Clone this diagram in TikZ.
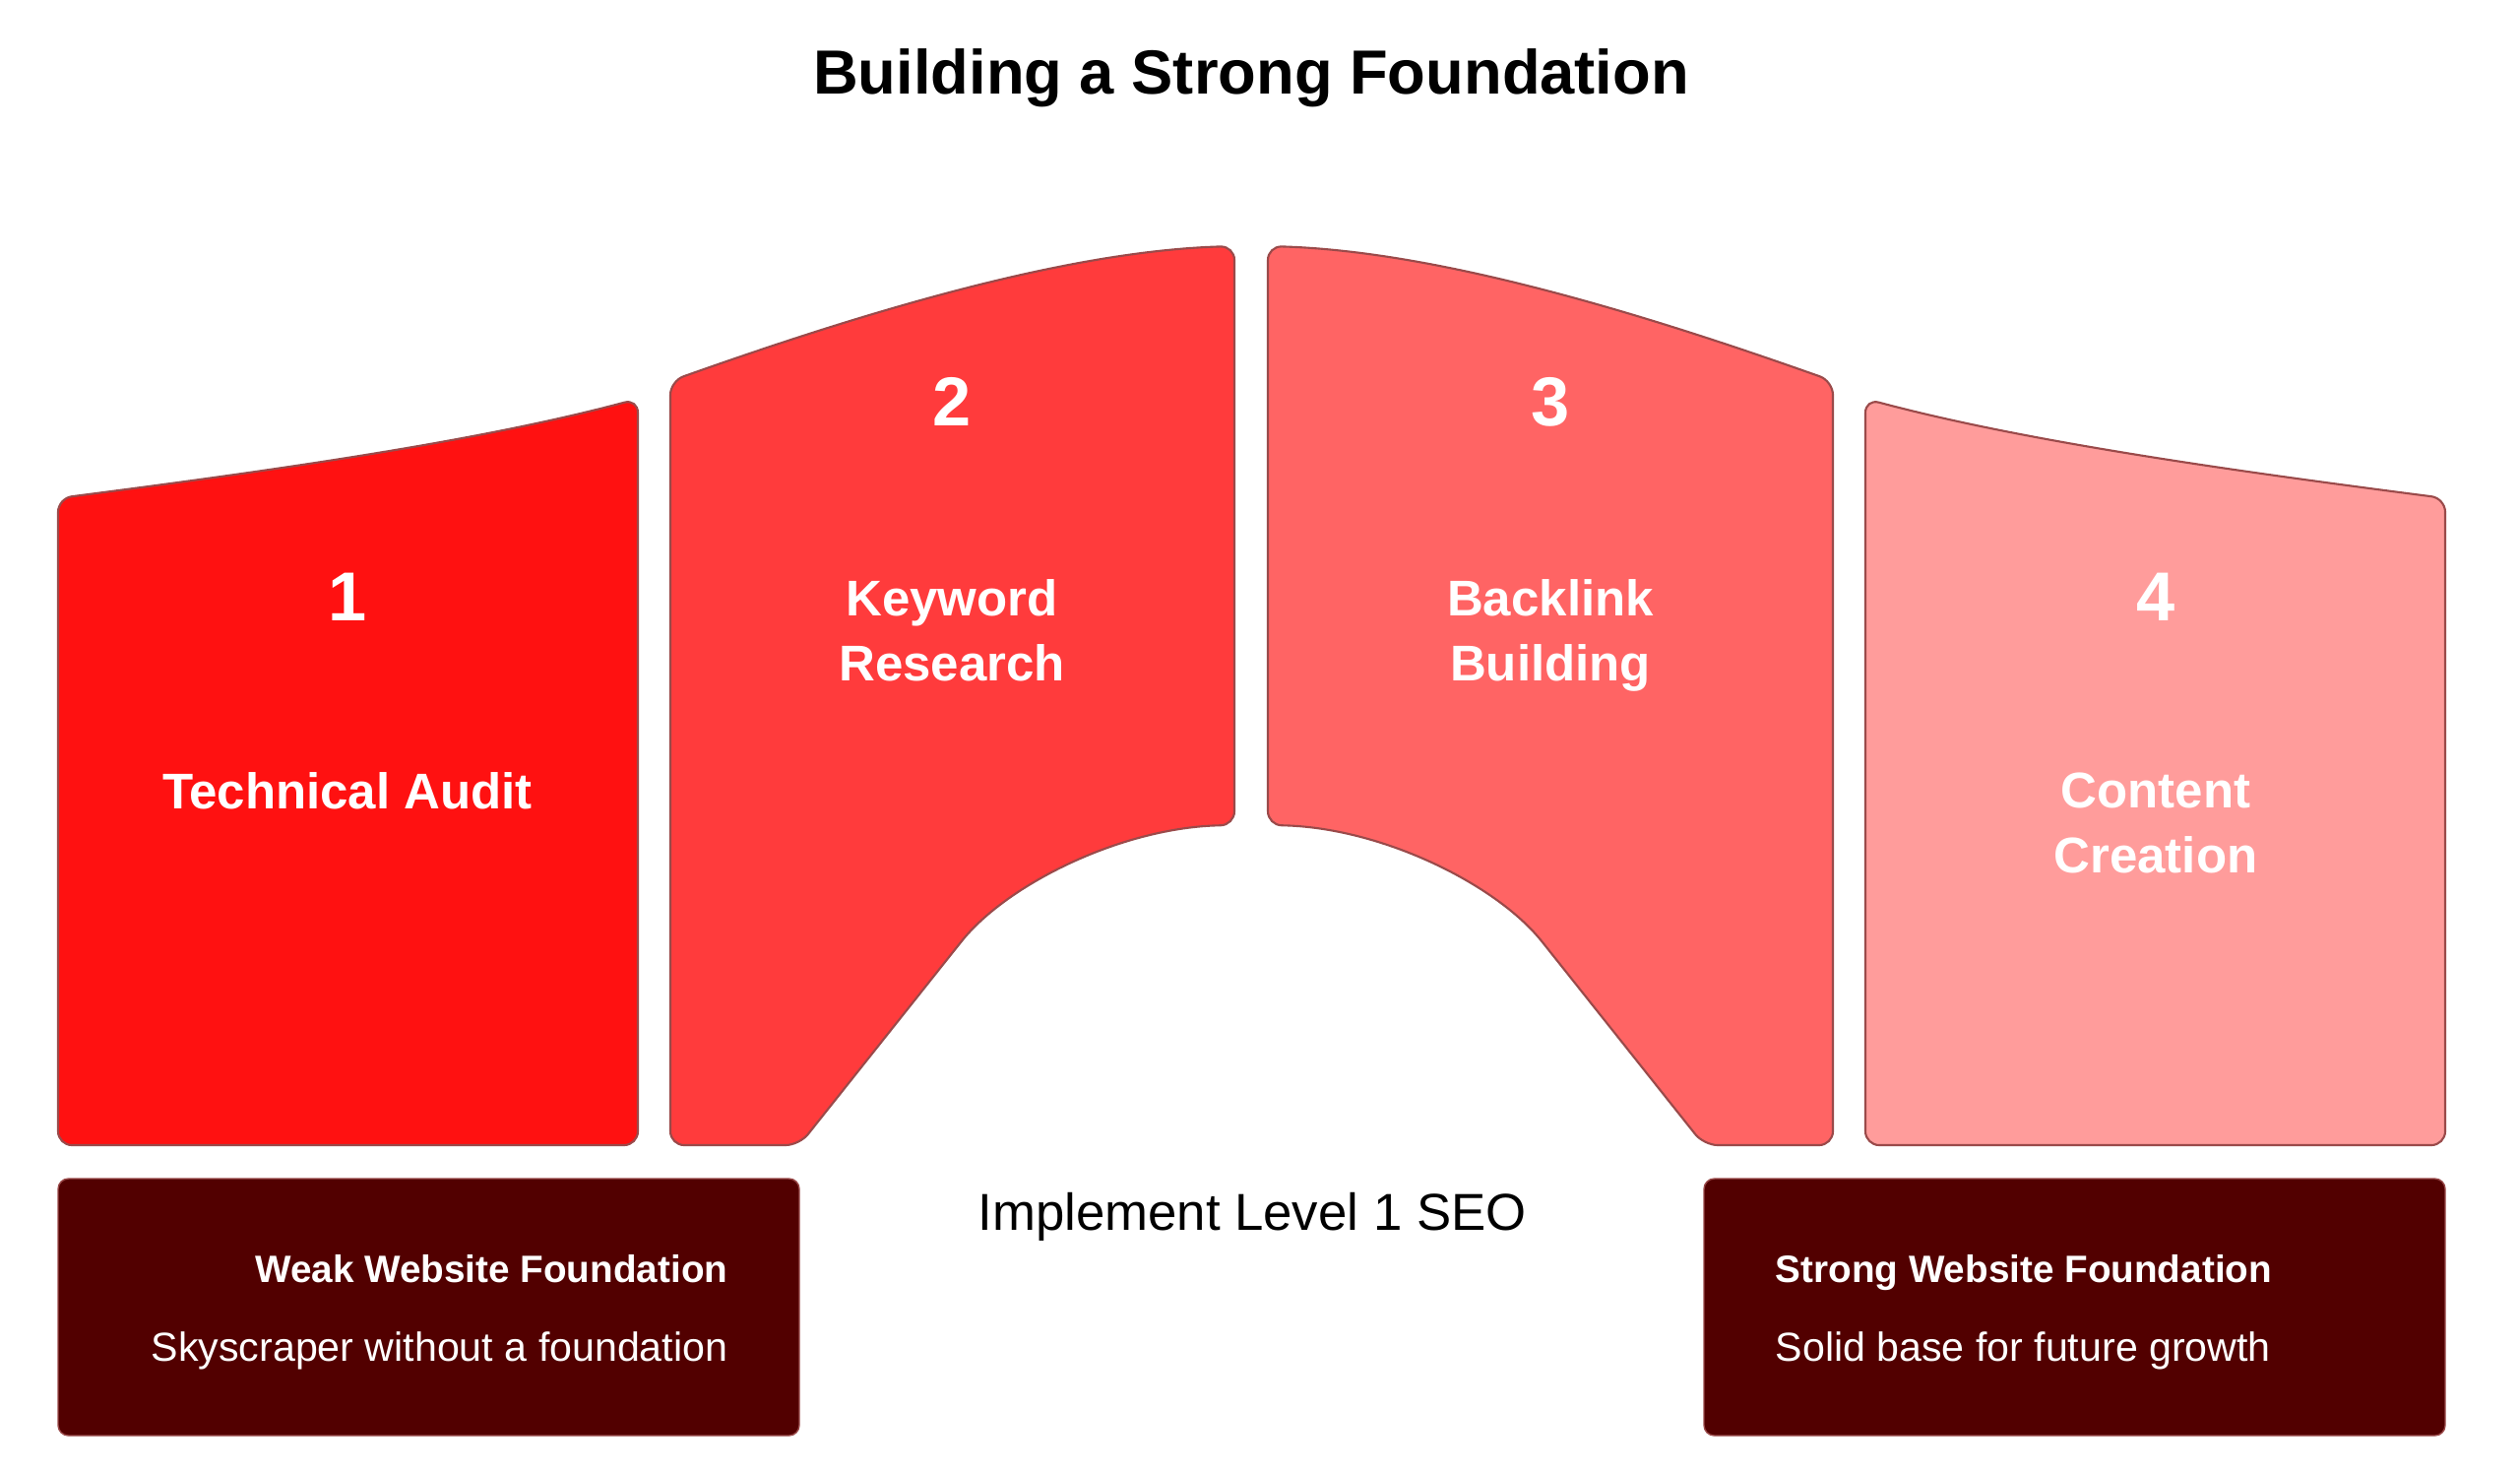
\documentclass[tikz,border=0pt]{standalone}
\usepackage{fontspec}
\setmainfont{Liberation Sans}
\definecolor{stepone}{HTML}{FF1111}
\definecolor{steptwo}{HTML}{FF3B3C}
\definecolor{stepthree}{HTML}{FF6464}
\definecolor{stepfour}{HTML}{FF9C9B}
\definecolor{basedark}{HTML}{520000}
\definecolor{edgegrey}{HTML}{9A4A4A}

\begin{document}
\begin{tikzpicture}[x=0.01cm, y=-0.01cm,
		block/.style={draw=edgegrey, line width=0.6pt, rounded corners=4pt},
		footbox/.style={fill=basedark, draw=edgegrey, line width=0.4pt, rounded corners=3pt},
		titletext/.style={font=\fontsize{18}{22}\selectfont\bfseries, inner sep=0pt},
		numtext/.style={text=white, font=\fontsize{20}{24}\selectfont\bfseries, inner sep=0pt},
		steptext/.style={text=white, font=\fontsize{14.5}{18.8}\selectfont\bfseries, align=center, inner sep=0pt},
		headtext/.style={text=white, font=\fontsize{11}{13}\selectfont\bfseries, inner sep=0pt},
		subtext/.style={text=white, font=\fontsize{11.7}{14}\selectfont, inner sep=0pt}]
		\useasboundingbox (0, 0) rectangle (2560, 1496);

		\node[titletext, anchor=base] (title) at (1271, 95) {Building a Strong Foundation};

		% the four pieces of the arch
		\draw[block, fill=stepone]
		(59, 1163) -- (59, 506)
		.. controls (260, 480) and (480, 450) .. (648, 405)
		-- (648, 1163) -- cycle;

		\draw[block, fill=steptwo]
		(681, 1163) -- (681, 387)
		.. controls (870, 320) and (1080, 255) .. (1254, 250)
		-- (1254, 838)
		.. controls (1140, 840) and (1023, 898) .. (968, 967)
		-- (812, 1163) -- cycle;

		\draw[block, fill=stepthree]
		(1862, 1163) -- (1862, 387)
		.. controls (1673, 320) and (1463, 255) .. (1288, 250)
		-- (1288, 838)
		.. controls (1403, 840) and (1520, 898) .. (1575, 967)
		-- (1731, 1163) -- cycle;

		\draw[block, fill=stepfour]
		(2484, 1163) -- (2484, 506)
		.. controls (2283, 480) and (2063, 450) .. (1895, 405)
		-- (1895, 1163) -- cycle;

		\node[numtext, anchor=base] (n1) at (353, 630) {1};
		\node[numtext, anchor=base] (n2) at (967, 432) {2};
		\node[numtext, anchor=base] (n3) at (1575, 432) {3};
		\node[numtext, anchor=base] (n4) at (2190, 630) {4};

		\node[steptext] (audit) at (353, 803) {Technical Audit};
		\node[steptext] (keyword) at (967, 640) {Keyword\\Research};
		\node[steptext] (backlink) at (1575, 645) {Backlink\\Building};
		\node[steptext] (content) at (2190, 836) {Content\\Creation};

		\node[font=\fontsize{15}{18}\selectfont, inner sep=0pt, anchor=base] (seo) at (1272, 1249) {Implement Level 1 SEO};

		% weak and strong base
		\draw[footbox] (59, 1197) rectangle (812, 1458);
		\draw[footbox] (1731, 1197) rectangle (2484, 1458);

		\node[headtext, anchor=base east] (weak) at (740, 1302) {Weak Website Foundation};
		\node[subtext, anchor=base east] (weakdesc) at (740, 1382) {Skyscraper without a foundation};
		\node[headtext, anchor=base west] (strong) at (1803, 1302) {Strong Website Foundation};
		\node[subtext, anchor=base west] (strongdesc) at (1803, 1382) {Solid base for future growth};
	\end{tikzpicture}
\end{document}
